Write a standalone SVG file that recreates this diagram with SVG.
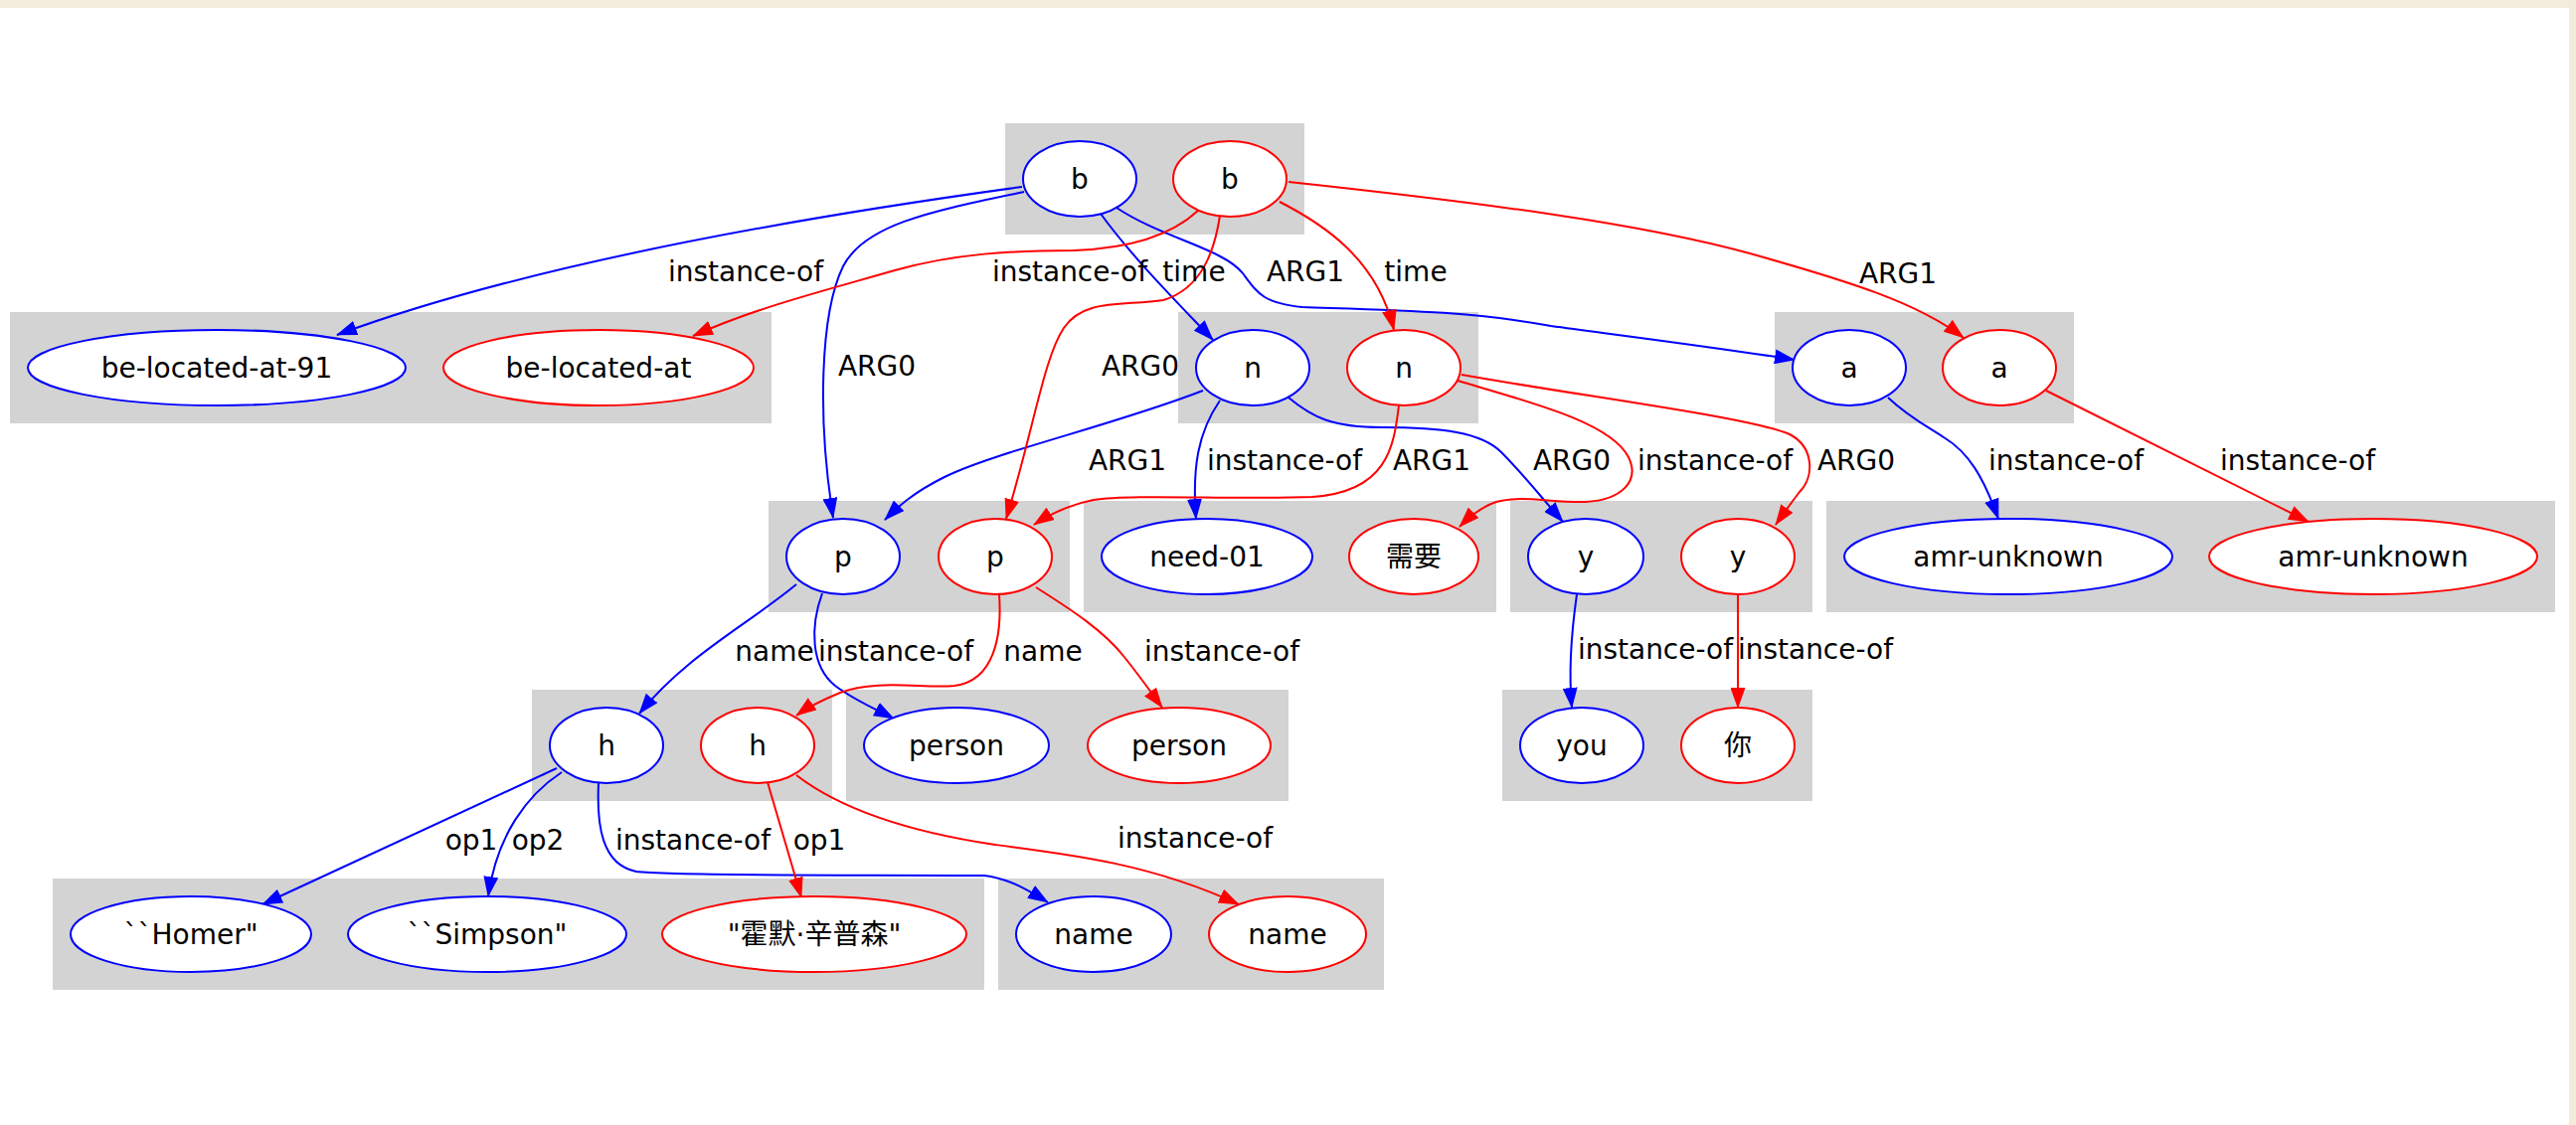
<svg xmlns="http://www.w3.org/2000/svg" width="2591" height="1132" viewBox="0 0 2591 1132">
<style>
.cl{fill:#d3d3d3;stroke:none}
.nb{fill:#fff;stroke:#0000ff;stroke-width:2}
.nr{fill:#fff;stroke:#ff0000;stroke-width:2}
text{font-family:"DejaVu Sans","Noto Sans CJK SC",sans-serif;font-size:28px;fill:#000;text-anchor:middle}
.eb{fill:none;stroke:#0000ff;stroke-width:2;marker-end:url(#ab)}
.er{fill:none;stroke:#ff0000;stroke-width:2;marker-end:url(#ar)}
</style>
<defs>
<marker id="ab" viewBox="0 0 21 15" refX="20" refY="7.5" markerWidth="21" markerHeight="15" markerUnits="userSpaceOnUse" orient="auto"><path d="M0,0 L21,7.5 L0,15 z" fill="#0000ff"/></marker>
<marker id="ar" viewBox="0 0 21 15" refX="20" refY="7.5" markerWidth="21" markerHeight="15" markerUnits="userSpaceOnUse" orient="auto"><path d="M0,0 L21,7.5 L0,15 z" fill="#ff0000"/></marker>
</defs>
<rect x="0" y="0" width="2591" height="1132" fill="#ffffff"/>
<rect x="0" y="0" width="2591" height="8" fill="#f3ecdc"/>
<rect x="2584" y="0" width="7" height="1132" fill="#f3ecdc"/>
<g id="clusters">
<rect class="cl" x="1011" y="124" width="301" height="112"/>
<rect class="cl" x="10" y="314" width="766" height="112"/>
<rect class="cl" x="1185" y="314" width="302" height="112"/>
<rect class="cl" x="1785" y="314" width="301" height="112"/>
<rect class="cl" x="773" y="504" width="303" height="112"/>
<rect class="cl" x="1090" y="504" width="415" height="112"/>
<rect class="cl" x="1519" y="504" width="304" height="112"/>
<rect class="cl" x="1837" y="504" width="733" height="112"/>
<rect class="cl" x="535" y="694" width="302" height="112"/>
<rect class="cl" x="851" y="694" width="445" height="112"/>
<rect class="cl" x="1511" y="694" width="312" height="112"/>
<rect class="cl" x="53" y="884" width="937" height="112"/>
<rect class="cl" x="1004" y="884" width="388" height="112"/>
</g>
<g id="connectors">
<path class="eb" d="M1028,188 C780,222 520,270 339,337"/>
<path class="eb" d="M1030,193 C940,212 870,225 848,268 C825,315 822,420 838,521"/>
<path class="eb" d="M1107,215 C1140,260 1180,300 1220,342"/>
<path class="eb" d="M1123,209 C1170,240 1230,250 1250,275 C1265,295 1270,305 1310,309 C1400,312 1480,313 1560,328 C1650,340 1730,350 1805,362"/>
<path class="eb" d="M1210,393 C1120,428 1000,455 950,480 C920,495 905,508 890,523"/>
<path class="eb" d="M1227,403 C1205,435 1199,470 1203,522"/>
<path class="eb" d="M1296,400 C1320,420 1340,430 1390,430 C1450,430 1490,435 1510,455 C1530,475 1550,500 1572,525"/>
<path class="eb" d="M801,588 C750,630 690,660 643,718"/>
<path class="eb" d="M827,597 C815,630 815,670 840,690 C860,705 880,713 899,723"/>
<path class="eb" d="M1586,598 C1580,640 1578,680 1581,712"/>
<path class="eb" d="M1899,400 C1920,420 1940,430 1955,440 C1980,455 1995,480 2010,522"/>
<path class="eb" d="M560,773 L264,910"/>
<path class="eb" d="M565,777 C530,800 500,840 491,902"/>
<path class="eb" d="M602,788 C600,830 605,870 640,877 C680,882 900,880 990,881 C1015,884 1035,896 1054,908"/>
<path class="er" d="M1205,212 C1180,235 1140,250 1080,252 C1020,252 960,255 900,272 C820,295 760,310 697,338"/>
<path class="er" d="M1227,217 C1222,250 1210,290 1170,302 C1130,308 1090,300 1070,330 C1050,360 1040,430 1012,522"/>
<path class="er" d="M1287,203 C1330,225 1385,260 1402,332"/>
<path class="er" d="M1296,183 C1500,205 1650,225 1760,255 C1860,283 1930,305 1975,340"/>
<path class="er" d="M1407,408 C1402,450 1395,495 1320,500 C1240,503 1140,497 1100,503 C1075,508 1055,518 1040,528"/>
<path class="er" d="M1466,383 C1540,405 1620,425 1638,460 C1650,485 1630,503 1595,505 C1560,506 1530,498 1505,505 C1490,510 1478,520 1468,530"/>
<path class="er" d="M1470,377 C1600,400 1760,420 1800,437 C1825,450 1825,480 1810,495 C1800,508 1793,518 1786,528"/>
<path class="er" d="M2058,393 L2322,525"/>
<path class="er" d="M1005,598 C1008,640 1000,685 960,690 C930,693 880,683 845,697 C828,704 812,712 801,720"/>
<path class="er" d="M1042,591 C1080,615 1110,635 1130,660 C1150,685 1160,700 1169,712"/>
<path class="er" d="M1748,598 L1748,712"/>
<path class="er" d="M772,787 L806,903"/>
<path class="er" d="M801,780 C840,810 900,835 1001,850 C1080,860 1160,870 1246,910"/>
</g>
<g id="edge-labels">
<text x="750" y="283">instance-of</text>
<text x="1076" y="283">instance-of</text>
<text x="1201" y="283">time</text>
<text x="1313" y="283">ARG1</text>
<text x="1424" y="283">time</text>
<text x="1909" y="285">ARG1</text>
<text x="882" y="378">ARG0</text>
<text x="1147" y="378">ARG0</text>
<text x="1134" y="473">ARG1</text>
<text x="1292" y="473">instance-of</text>
<text x="1440" y="473">ARG1</text>
<text x="1581" y="473">ARG0</text>
<text x="1725" y="473">instance-of</text>
<text x="1867" y="473">ARG0</text>
<text x="2078" y="473">instance-of</text>
<text x="2311" y="473">instance-of</text>
<text x="779" y="665">name</text>
<text x="901" y="665">instance-of</text>
<text x="1049" y="665">name</text>
<text x="1229" y="665">instance-of</text>
<text x="1665" y="663">instance-of</text>
<text x="1826" y="663">instance-of</text>
<text x="474" y="855">op1</text>
<text x="541" y="855">op2</text>
<text x="697" y="855">instance-of</text>
<text x="824" y="855">op1</text>
<text x="1202" y="853">instance-of</text>
</g>
<g id="node-b1"><ellipse class="nb" cx="1086" cy="180" rx="57" ry="38"/><text x="1086" y="190">b</text></g>
<g id="node-b2"><ellipse class="nr" cx="1237" cy="180" rx="57" ry="38"/><text x="1237" y="190">b</text></g>
<g id="node-bl1"><ellipse class="nb" cx="218" cy="370" rx="190" ry="38"/><text x="218" y="380">be-located-at-91</text></g>
<g id="node-bl2"><ellipse class="nr" cx="602" cy="370" rx="156" ry="38"/><text x="602" y="380">be-located-at</text></g>
<g id="node-n1"><ellipse class="nb" cx="1260" cy="370" rx="57" ry="38"/><text x="1260" y="380">n</text></g>
<g id="node-n2"><ellipse class="nr" cx="1412" cy="370" rx="57" ry="38"/><text x="1412" y="380">n</text></g>
<g id="node-a1"><ellipse class="nb" cx="1860" cy="370" rx="57" ry="38"/><text x="1860" y="380">a</text></g>
<g id="node-a2"><ellipse class="nr" cx="2011" cy="370" rx="57" ry="38"/><text x="2011" y="380">a</text></g>
<g id="node-p1"><ellipse class="nb" cx="848" cy="560" rx="57" ry="38"/><text x="848" y="570">p</text></g>
<g id="node-p2"><ellipse class="nr" cx="1001" cy="560" rx="57" ry="38"/><text x="1001" y="570">p</text></g>
<g id="node-need1"><ellipse class="nb" cx="1214" cy="560" rx="106" ry="38"/><text x="1214" y="570">need-01</text></g>
<g id="node-need2"><ellipse class="nr" cx="1422" cy="560" rx="65" ry="38"/><text x="1422" y="570">需要</text></g>
<g id="node-y1"><ellipse class="nb" cx="1595" cy="560" rx="58" ry="38"/><text x="1595" y="570">y</text></g>
<g id="node-y2"><ellipse class="nr" cx="1748" cy="560" rx="57" ry="38"/><text x="1748" y="570">y</text></g>
<g id="node-amr1"><ellipse class="nb" cx="2020" cy="560" rx="165" ry="38"/><text x="2020" y="570">amr-unknown</text></g>
<g id="node-amr2"><ellipse class="nr" cx="2387" cy="560" rx="165" ry="38"/><text x="2387" y="570">amr-unknown</text></g>
<g id="node-h1"><ellipse class="nb" cx="610" cy="750" rx="57" ry="38"/><text x="610" y="760">h</text></g>
<g id="node-h2"><ellipse class="nr" cx="762" cy="750" rx="57" ry="38"/><text x="762" y="760">h</text></g>
<g id="node-person1"><ellipse class="nb" cx="962" cy="750" rx="93" ry="38"/><text x="962" y="760">person</text></g>
<g id="node-person2"><ellipse class="nr" cx="1186" cy="750" rx="92" ry="38"/><text x="1186" y="760">person</text></g>
<g id="node-you1"><ellipse class="nb" cx="1591" cy="750" rx="62" ry="38"/><text x="1591" y="760">you</text></g>
<g id="node-you2"><ellipse class="nr" cx="1748" cy="750" rx="57" ry="38"/><text x="1748" y="760">你</text></g>
<g id="node-homer"><ellipse class="nb" cx="192" cy="940" rx="121" ry="38"/><text x="192" y="950">``Homer"</text></g>
<g id="node-simpson"><ellipse class="nb" cx="490" cy="940" rx="140" ry="38"/><text x="490" y="950">``Simpson"</text></g>
<g id="node-homer2"><ellipse class="nr" cx="819" cy="940" rx="153" ry="38"/><text x="819" y="950">"霍默·辛普森"</text></g>
<g id="node-name1"><ellipse class="nb" cx="1100" cy="940" rx="78" ry="38"/><text x="1100" y="950">name</text></g>
<g id="node-name2"><ellipse class="nr" cx="1295" cy="940" rx="79" ry="38"/><text x="1295" y="950">name</text></g>
</svg>
